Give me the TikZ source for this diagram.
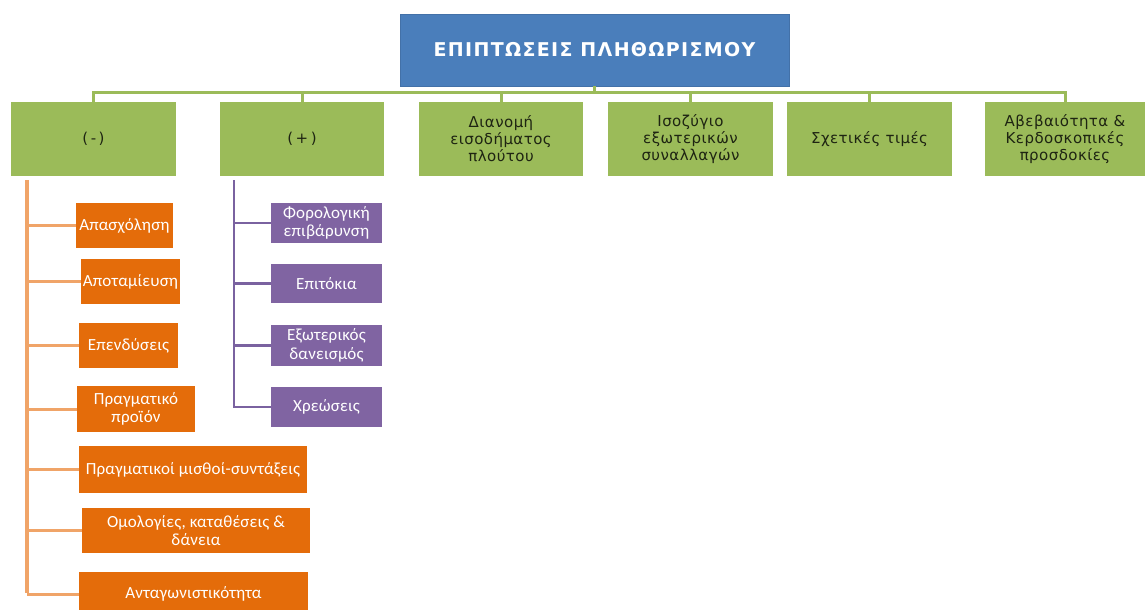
\documentclass[tikz,border=0pt]{standalone}
\usepackage{fontspec}
\setmainfont{DejaVu Sans}
\newfontfamily\verd{DejaVu Sans}[LetterSpace=3]
\newfontfamily\verdt{DejaVu Sans}[LetterSpace=7]
\newfontfamily\calib{Carlito}[LetterSpace=1]
\definecolor{cblue}{HTML}{4A7EBB}
\definecolor{cgreen}{HTML}{9BBB59}
\definecolor{corange}{HTML}{E46C0A}
\definecolor{cpurple}{HTML}{8064A2}
\definecolor{corline}{HTML}{F0A468}
\definecolor{cpuline}{HTML}{7A62A0}
\definecolor{cgtext}{HTML}{1E2412}
\begin{document}
\begin{tikzpicture}[x=1pt,y=-1pt,
  titlebox/.style={draw=cblue!90!black, line width=0.5pt, fill=cblue, text=white, inner sep=0pt, align=center,
    font=\verdt\bfseries\fontsize{19}{21}\selectfont},
  greenbox/.style={fill=cgreen, text=cgtext, inner sep=0pt, align=center, minimum height=74pt,
    font=\verd\fontsize{15}{17}\selectfont},
  orbox/.style={fill=corange, text=white, inner sep=0pt, align=center,
    font=\calib\fontsize{17}{18.5}\selectfont},
  pubox/.style={fill=cpurple, text=white, inner sep=0pt, align=center, minimum width=111pt,
    font=\calib\fontsize{17}{18.5}\selectfont},
  gline/.style={draw=cgreen, line width=3pt},
  oline/.style={draw=corline, line width=3pt},
  ospine/.style={draw=corline, line width=4.5pt},
  pline/.style={draw=cpuline, line width=2.2pt},
]
\clip (0,0) rectangle (1146,610);
\useasboundingbox (0,0) rectangle (1146,610);
\fill[white] (0,0) rectangle (1146,610);

% title
\node[titlebox, minimum width=389pt, minimum height=72pt] (t) at (594.5,50) {ΕΠΙΠΤΩΣΕΙΣ ΠΛΗΘΩΡΙΣΜΟΥ};

% green level
\node[greenbox, minimum width=165pt] (g1) at (93.5,139) {(\,-\,)};
\node[greenbox, minimum width=164pt] (g2) at (302,139) {(\,+\,)};
\node[greenbox, minimum width=164pt] (g3) at (501,139) {Διανομή\\εισοδήματος\\πλούτου};
\node[greenbox, minimum width=165pt] (g4) at (690.5,139) {Ισοζύγιο\\εξωτερικών\\συναλλαγών};
\node[greenbox, minimum width=165pt] (g5) at (869.5,139) {Σχετικές τιμές};
\node[greenbox, minimum width=160pt] (g6) at (1065,139) {Αβεβαιότητα \&\\Κερδοσκοπικές\\προσδοκίες};

\coordinate (bus) at (0,92);
\draw[gline] (g1.north) -- (g1.north |- bus) -- (g6.north |- bus) -- (g6.north);
\foreach \g in {g2,g3,g4,g5} \draw[gline] (\g.north) -- (\g.north |- bus);
\draw[gline] (t.south) -- (t.south |- bus);

% orange list
\node[orbox, minimum width=97pt, minimum height=45pt] (o1) at (124.5,225.5) {Απασχόληση};
\node[orbox, minimum width=99pt, minimum height=45pt] (o2) at (130.5,281.5) {Αποταμίευση};
\node[orbox, minimum width=99pt, minimum height=45pt] (o3) at (128.5,345.5) {Επενδύσεις};
\node[orbox, minimum width=118pt, minimum height=46pt] (o4) at (136,409) {Πραγματικό\\προϊόν};
\node[orbox, minimum width=228pt, minimum height=47pt] (o5) at (193,469.5) {Πραγματικοί μισθοί-συντάξεις};
\node[orbox, minimum width=228pt, minimum height=45pt] (o6) at (196,530.5) {Ομολογίες, καταθέσεις \&\\δάνεια};
\node[orbox, minimum width=229pt, minimum height=44pt] (o7) at (193.5,594) {Ανταγωνιστικότητα};

\coordinate (os) at (27,180);
\coordinate (oe) at (27,593);
\foreach \o in {o1,o2,o3,o4,o5,o6,o7} \draw[oline] (os |- \o.west) -- (\o.west);
\draw[ospine] (os) -- (oe);

% purple list
\node[pubox, minimum height=40pt] (p1) at (326.5,223) {Φορολογική\\επιβάρυνση};
\node[pubox, minimum height=39pt] (p2) at (326.5,283.5) {Επιτόκια};
\node[pubox, minimum height=41pt] (p3) at (326.5,345.5) {Εξωτερικός\\δανεισμός};
\node[pubox, minimum height=40pt] (p4) at (326.5,407) {Χρεώσεις};

\coordinate (ps) at (234,180);
\draw[pline] (ps) -- (ps |- p4.west) -- (p4.west);
\foreach \p in {p1,p2,p3} \draw[pline] (ps |- \p.west) -- (\p.west);
\end{tikzpicture}
\end{document}
